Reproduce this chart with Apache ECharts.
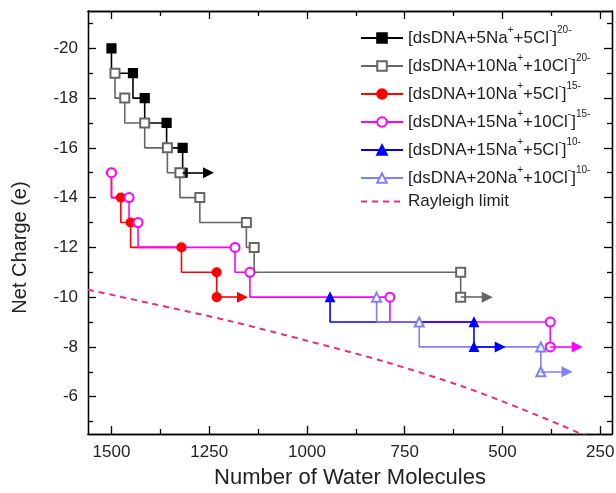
<!DOCTYPE html>
<html>
<head>
<meta charset="utf-8">
<script src="https://cdn.jsdelivr.net/npm/echarts@6/dist/echarts.min.js"></script>
<style>
html, body { margin: 0; padding: 0; background: #fff; }
#chart { width: 616px; height: 493px; }
</style>
</head>
<body>
<div id="chart"></div>
<script>
// axis ticks
var xTicks = [1500, 1250, 1000, 750, 500, 250];
var xMinor = [1375, 1125, 875, 625, 375];
var yTicks = [-20, -18, -16, -14, -12, -10, -8, -6];
var yMinor = [-21, -19, -17, -15, -13, -11, -9, -7, -5];

// series names (legend)
var seriesNames = [
	'[dsDNA+5Na⁺+5Cl⁻]²⁰⁻',
	'[dsDNA+10Na⁺+10Cl⁻]²⁰⁻',
	'[dsDNA+10Na⁺+5Cl⁻]¹⁵⁻',
	'[dsDNA+15Na⁺+10Cl⁻]¹⁵⁻',
	'[dsDNA+15Na⁺+5Cl⁻]¹⁰⁻',
	'[dsDNA+20Na⁺+10Cl⁻]¹⁰⁻'
];
var legendRich = [
	'[dsDNA+5Na{s|+}+5Cl{s|-}]{s|20-}',
	'[dsDNA+10Na{s|+}+10Cl{s|-}]{s|20-}',
	'[dsDNA+10Na{s|+}+5Cl{s|-}]{s|15-}',
	'[dsDNA+15Na{s|+}+10Cl{s|-}]{s|15-}',
	'[dsDNA+15Na{s|+}+5Cl{s|-}]{s|10-}',
	'[dsDNA+20Na{s|+}+10Cl{s|-}]{s|10-}'
];
var rayleighName = 'Rayleigh limit';

// water molecules / net charge per series
var water1 = [1500, 1445, 1415, 1359, 1318, 1318];
var charge1 = [-20, -19, -18, -17, -16, -15];
var water2 = [1491, 1466, 1415, 1357, 1325, 1274, 1155, 1135, 607, 607];
var charge2 = [-19, -18, -17, -16, -15, -14, -13, -12, -11, -10];
var water3 = [1500, 1476, 1451, 1321, 1231, 1231];
var charge3 = [-15, -14, -13, -12, -11, -10];
var water4 = [1500, 1455, 1432, 1184, 1146, 788, 378, 378];
var charge4 = [-15, -14, -13, -12, -11, -10, -9, -8];
var water5 = [941, 573, 573];
var charge5 = [-10, -9, -8];
var water6 = [822, 713, 402, 402];
var charge6 = [-10, -9, -8, -7];

// where the end arrows point to
var arrowEnd = [1252, 539, 1165, 309, 506, 335];

// Rayleigh limit curve
var rayleighWater = [1560, 1400, 1200, 1000, 800, 600, 450, 350, 280];
var rayleighCharge = [-10.3, -9.75, -9.05, -8.25, -7.4, -6.4, -5.5, -4.85, -4.37];

var colors = ['#000000', '#666666', '#ff0000', '#ff00ff', '#0000ff', '#8080ff'];
var symbols = ['rect', 'emptyRect', 'circle', 'emptyCircle', 'triangle', 'emptyTriangle'];
var waters = [water1, water2, water3, water4, water5, water6];
var charges = [charge1, charge2, charge3, charge4, charge5, charge6];
var font = 'Liberation Sans, Arial, sans-serif';

function pairs(xs, ys) {
	var out = [];
	for (var i = 0; i < xs.length; i++) {
		out.push([xs[i], ys[i]]);
	}
	return out;
}

var myChart = echarts.init(document.getElementById('chart'));

var series = [];
for (var i = 0; i < waters.length; i++) {
	var xs = waters[i];
	var ys = charges[i];
	var last = xs.length - 1;
	series.push({
		name: seriesNames[i],
		type: 'line',
		step: 'start',
		data: pairs(xs, ys),
		symbol: symbols[i],
		symbolSize: 9,
		showAllSymbol: true,
		lineStyle: { color: colors[i], width: 1.6 },
		itemStyle: { color: colors[i], borderColor: colors[i], borderWidth: 1.2 },
		markLine: {
			silent: true,
			animation: false,
			symbol: ['none', 'triangle'],
			symbolSize: 11,
			label: { show: false },
			lineStyle: { color: colors[i], width: 1.6, type: 'solid' },
			data: [[
				{ coord: [xs[last], ys[last]] },
				{ coord: [arrowEnd[i], ys[last]] }
			]]
		}
	});
}
series.push({
	name: rayleighName,
	type: 'line',
	smooth: 0.3,
	data: pairs(rayleighWater, rayleighCharge),
	symbol: 'none',
	lineStyle: { color: '#e8307a', width: 2, type: [6, 5] },
	itemStyle: { color: '#e8307a' }
});

var legendData = seriesNames.slice();
legendData.push({ name: rayleighName, textStyle: { lineHeight: 16 }, itemStyle: { opacity: 0 } });

function axisPair(pos, ticks, minor, showLabel, extra) {
	var base = {
		type: 'value',
		position: pos,
		splitLine: { show: false },
		axisLine: { show: true, onZero: false, lineStyle: { color: '#000', width: 1.3 } }
	};
	var major = Object.assign({}, base, extra, {
		axisTick: { show: true, inside: true, length: 8, customValues: ticks, lineStyle: { color: '#000', width: 1.3 } },
		axisLabel: {
			show: showLabel, customValues: ticks, fontSize: 17, color: '#222', margin: 10, fontFamily: font,
			formatter: function (v) { return String(v); }
		}
	});
	var min = Object.assign({}, base, {
		min: extra.min, max: extra.max, inverse: extra.inverse,
		axisTick: { show: true, inside: true, length: 5, customValues: minor, lineStyle: { color: '#000', width: 1.3 } },
		axisLabel: { show: false }
	});
	return [major, min];
}

var xRange = { min: 220, max: 1560, inverse: true };
var yRange = { min: -21.5, max: -4.5, inverse: true };

var xAxes = axisPair('bottom', xTicks, xMinor, true, Object.assign({
	name: 'Number of Water Molecules',
	nameLocation: 'middle',
	nameGap: 33,
	nameTextStyle: { fontSize: 22, color: '#222', fontFamily: font }
}, xRange)).concat(axisPair('top', xTicks, xMinor, false, xRange));

var yAxes = axisPair('left', yTicks, yMinor, true, Object.assign({
	name: 'Net Charge (e)',
	nameLocation: 'middle',
	nameGap: 58,
	nameTextStyle: { fontSize: 20, color: '#222', fontFamily: font, padding: [0, 50, 0, 0] }
}, yRange)).concat(axisPair('right', yTicks, yMinor, false, yRange));

var options = {
	animation: false,
	backgroundColor: '#fff',
	grid: { left: 88, right: 4, top: 11, bottom: 59, containLabel: false, outerBoundsMode: 'none' },
	legend: {
		orient: 'vertical',
		left: 360,
		top: 25,
		padding: 0,
		itemWidth: 42,
		itemHeight: 12,
		itemGap: 2,
		data: legendData,
		formatter: function (name) {
			var idx = seriesNames.indexOf(name);
			return idx >= 0 ? legendRich[idx] : name;
		},
		textStyle: {
			fontSize: 17,
			color: '#222',
			lineHeight: 26,
			fontFamily: font,
			rich: {
				s: { fontSize: 10, lineHeight: 8, verticalAlign: 'top', color: '#222', fontFamily: font }
			}
		}
	},
	xAxis: xAxes,
	yAxis: yAxes,
	series: series
};
myChart.setOption(options);
</script>
</body>
</html>
